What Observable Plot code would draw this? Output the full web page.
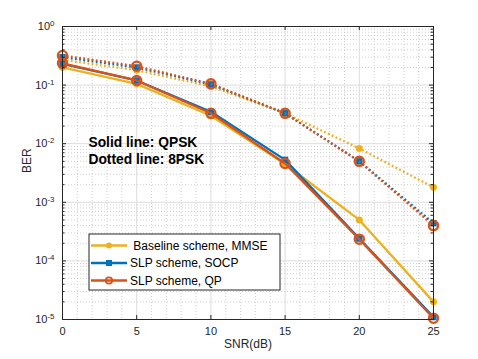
<!DOCTYPE html>
<html>
<head>
<meta charset="utf-8">
<script src="https://cdn.jsdelivr.net/npm/d3@7"></script>
<script src="https://cdn.jsdelivr.net/npm/@observablehq/plot@0.6"></script>
<style>
  html, body { margin: 0; padding: 0; background: #fff; }
  #chart { width: 478px; height: 359px; }
</style>
</head>
<body>
<div id="chart"></div>
<script>
// ---- data ----
const snr = [0, 5, 10, 15, 20, 25];
const baseQPSK = [0.20, 0.105, 0.030, 0.0045, 5.0e-4, 2.0e-5];
const socpQPSK = [0.23, 0.12, 0.035, 0.0053, 2.4e-4, 1.1e-5];
const qpQPSK   = [0.235, 0.12, 0.033, 0.0046, 2.35e-4, 1.05e-5];
const base8PSK = [0.27, 0.18, 0.095, 0.033, 0.0083, 0.0018];
const socp8PSK = [0.30, 0.20, 0.103, 0.033, 0.0050, 4.4e-4];
const qp8PSK   = [0.32, 0.21, 0.105, 0.033, 0.0050, 4.0e-4];

const legendLabels = [" Baseline scheme, MMSE", "SLP scheme, SOCP", "SLP scheme, QP"];
const xTicks = [0, 5, 10, 15, 20, 25];
const xMinor = d3.range(0, 26, 1).filter(v => v % 5 !== 0);
const yTicks = [1e-5, 1e-4, 1e-3, 1e-2, 1e-1, 1];
const yMinor = d3.range(-5, 0).flatMap(e => d3.range(2, 10).map(m => m * Math.pow(10, e)));
const annotations = ["Solid line: QPSK", "Dotted line: 8PSK"];
const annotationY = [0.0105, 0.0053];

const cY = "#EDB120", cB = "#0072BD", cR = "#D95319";
const W = 478, H = 359, mL = 62, mR = 45, mT = 26, mB = 40;
const pW = W - mL - mR, pH = H - mT - mB;

const rows = vals => snr.map((x, i) => ({snr: x, ber: vals[i]}));
const dotted = "1.8,2.4";
const LW = 2.3;

function series(vals, color, dash, markerKind) {
  const data = rows(vals);
  const m = [Plot.line(data, {x: "snr", y: "ber", stroke: color, strokeWidth: LW, strokeDasharray: dash, strokeLinecap: "butt"})];
  if (markerKind === "dot") m.push(Plot.dot(data, {x: "snr", y: "ber", r: 3.3, fill: color, stroke: color, strokeWidth: 0.5}));
  if (markerKind === "square") m.push(Plot.dot(data, {x: "snr", y: "ber", symbol: "square", r: 3.6, fill: color}));
  if (markerKind === "circle") m.push(Plot.dot(data, {x: "snr", y: "ber", r: 4.6, fill: "none", stroke: color, strokeWidth: 2.3}));
  return m;
}

const chart = Plot.plot({
  width: W, height: H,
  marginLeft: mL, marginRight: mR, marginTop: mT, marginBottom: mB,
  style: {fontFamily: "'Liberation Sans', Arial, sans-serif", fontSize: "11px", color: "#262626", background: "#fff"},
  x: {domain: [0, 25]},
  y: {type: "log", domain: [1e-5, 1]},
  marks: [
    // minor grid (dotted)
    Plot.ruleY(yMinor, {y: d => d, stroke: "#c4c4c4", strokeWidth: 0.8, strokeDasharray: "1,2"}),
    Plot.ruleX(xMinor, {x: d => d, stroke: "#c4c4c4", strokeWidth: 0.8, strokeDasharray: "1,2"}),
    // major grid
    Plot.ruleY(yTicks, {y: d => d, stroke: "#dcdcdc", strokeWidth: 1}),
    Plot.ruleX(xTicks, {x: d => d, stroke: "#dcdcdc", strokeWidth: 1}),
    // series
    ...series(baseQPSK, cY, null, "dot"),
    ...series(base8PSK, cY, dotted, "dot"),
    ...series(socpQPSK, cB, null, "square"),
    ...series(socp8PSK, cB, dotted, "square"),
    ...series(qpQPSK, cR, null, "circle"),
    ...series(qp8PSK, cR, dotted, "circle"),
    // inward ticks (box on)
    Plot.tickY(yTicks, {y: d => d, insetRight: pW - 4, stroke: "#262626"}),
    Plot.tickY(yTicks, {y: d => d, insetLeft: pW - 4, stroke: "#262626"}),
    Plot.tickY(yMinor, {y: d => d, insetRight: pW - 2.5, stroke: "#262626"}),
    Plot.tickY(yMinor, {y: d => d, insetLeft: pW - 2.5, stroke: "#262626"}),
    Plot.tickX(xTicks, {x: d => d, insetTop: pH - 4, stroke: "#262626"}),
    Plot.tickX(xTicks, {x: d => d, insetBottom: pH - 4, stroke: "#262626"}),
    Plot.frame({stroke: "#262626", strokeWidth: 1}),
    Plot.axisX({ticks: xTicks, tickSize: 0, tickPadding: 8, tickFormat: d => String(d), label: null, fontSize: 11}),
    Plot.axisY({ticks: yTicks, tickSize: 0, tickPadding: 8, tickFormat: d => "10^" + Math.round(Math.log10(d)), label: null, fontSize: 11}),
    Plot.text(["SNR(dB)"], {frameAnchor: "bottom", dy: 28, fontSize: 12, fill: "#262626"}),
    Plot.text(["BER"], {frameAnchor: "left", dx: -35, rotate: -90, fontSize: 12, fill: "#262626"}),
    Plot.text(annotations, {x: () => 1.75, y: (d, i) => annotationY[i], text: d => d, textAnchor: "start", fontWeight: "bold", fontSize: 13.8, fill: "#000"})
  ]
});

document.getElementById("chart").appendChild(chart);

// superscript exponents on y tick labels
d3.select(chart).selectAll('g[aria-label="y-axis tick label"] text').each(function () {
  const t = this.textContent;
  const parts = t.split("^");
  if (parts.length === 2) {
    const sel = d3.select(this);
    sel.text(parts[0]);
    sel.append("tspan").attr("dy", "-0.5em").attr("font-size", "0.72em").text(parts[1]);
  }
});

// legend box
const svg = d3.select(chart);
const lg = svg.append("g").attr("font-family", "'Liberation Sans', Arial, sans-serif").attr("font-size", 12).attr("text-anchor", "start");
const lx = 89, ly = 234, lw = 191, lh = 56;
lg.append("rect").attr("x", lx).attr("y", ly).attr("width", lw).attr("height", lh)
  .attr("fill", "#fff").attr("stroke", "#262626").attr("stroke-width", 1);
const colors = [cY, cB, cR];
const kinds = ["dot", "square", "circle"];
legendLabels.forEach((lab, i) => {
  const cy = ly + 11.5 + i * 17.5;
  lg.append("line").attr("x1", lx + 2).attr("x2", lx + 38).attr("y1", cy).attr("y2", cy)
    .attr("stroke", colors[i]).attr("stroke-width", LW);
  const mx = lx + 20;
  if (kinds[i] === "dot") lg.append("circle").attr("cx", mx).attr("cy", cy).attr("r", 3).attr("fill", colors[i]);
  if (kinds[i] === "square") lg.append("rect").attr("x", mx - 3).attr("y", cy - 3).attr("width", 6).attr("height", 6).attr("fill", colors[i]);
  if (kinds[i] === "circle") lg.append("circle").attr("cx", mx).attr("cy", cy).attr("r", 3.2).attr("fill", "none").attr("stroke", colors[i]).attr("stroke-width", 1.8);
  lg.append("text").attr("x", lx + 41).attr("y", cy).attr("dy", "0.35em").attr("fill", "#000")
    .attr("text-anchor", "start").style("white-space", "pre").text(lab);
});
</script>
</body>
</html>
